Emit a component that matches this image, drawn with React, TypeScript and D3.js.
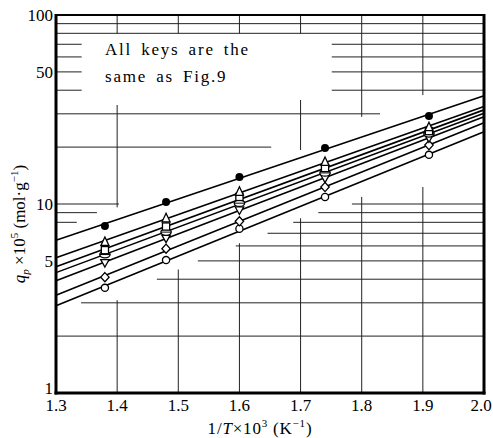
import React from "react";
import * as d3 from "d3";

// ---- data ----
const temps = [1.38, 1.48, 1.6, 1.74, 1.91]; // 1/T x 10^3
const filledCircle = [7.65, 10.25, 13.9, 19.8, 29.2];
const triangleUp = [6.3, 8.4, 11.6, 16.7, 25.5];
const squareKey = [5.7, 7.6, 10.9, 15.5, 24.3];
const thetaKey = [5.4, 7.1, 10.1, 14.6, 23.5];
const triangleDown = [4.9, 6.6, 9.3, 13.7, 22.4];
const diamondKey = [4.1, 5.8, 8.1, 12.3, 20.5];
const openCircle = [3.6, 5.05, 7.4, 10.9, 18.2];

const xTicks = [1.3, 1.4, 1.5, 1.6, 1.7, 1.8, 1.9, 2.0];
const yTickLabels = [1, 5, 10, 50, 100];

// graph-paper grid fragments (value, from x, to x) / (x, from value, to value)
const hGrid: [number, number, number][] = [
  [90, 1.3, 2.0], [80, 1.3, 2.0],
  [70, 1.3, 1.342], [70, 1.751, 2.0],
  [60, 1.3, 1.342], [60, 1.751, 2.0],
  [50, 1.3, 1.342], [50, 1.751, 2.0],
  [40, 1.3, 1.342], [40, 1.751, 2.0],
  [30, 1.3, 1.83],
  [20, 1.3, 1.652],
  [10, 1.3, 1.403], [10, 1.784, 2.0],
  [9, 1.3, 1.367], [9, 1.729, 2.0],
  [8, 1.3, 1.334], [8, 1.688, 2.0],
  [7, 1.646, 2.0],
  [6, 1.594, 2.0],
  [5, 1.532, 2.0],
  [4, 1.465, 2.0],
  [3, 1.341, 2.0],
  [2, 1.3, 2.0],
];
const vGrid: [number, number, number][] = [
  [1.4, 80, 100], [1.4, 9.6, 33.4], [1.4, 1, 3.1],
  [1.5, 80, 100], [1.5, 1, 4.5],
  [1.6, 80, 100], [1.6, 1, 6.2],
  [1.7, 80, 100], [1.7, 19.3, 35.5], [1.7, 1, 8.4],
  [1.8, 28.9, 100], [1.8, 1, 10.9],
  [1.9, 37.7, 100], [1.9, 1, 12.3],
];

type Shape = "filledCircle" | "triUp" | "square" | "theta" | "triDown" | "diamond" | "openCircle";
const seriesList: { shape: Shape; values: number[] }[] = [
  { shape: "filledCircle", values: filledCircle },
  { shape: "triUp", values: triangleUp },
  { shape: "square", values: squareKey },
  { shape: "theta", values: thetaKey },
  { shape: "triDown", values: triangleDown },
  { shape: "diamond", values: diamondKey },
  { shape: "openCircle", values: openCircle },
];

const W = 493, H = 438;
const X0 = 56, X1 = 484, Y0 = 15, Y1 = 393;

function fitLog(xs: number[], vs: number[]) {
  const ls = vs.map((v) => Math.log10(v));
  const mx = d3.mean(xs)!, my = d3.mean(ls)!;
  let num = 0, den = 0;
  xs.forEach((x, i) => { num += (x - mx) * (ls[i] - my); den += (x - mx) ** 2; });
  const b = num / den;
  const a = my - b * mx;
  return (x: number) => Math.pow(10, a + b * x);
}

function Marker({ shape, cx, cy }: { shape: Shape; cx: number; cy: number }) {
  const sw = 1.3;
  switch (shape) {
    case "filledCircle":
      return <circle cx={cx} cy={cy} r={4} fill="#000" />;
    case "openCircle":
      return <circle cx={cx} cy={cy} r={3.6} fill="#fff" stroke="#000" strokeWidth={sw} />;
    case "triUp":
      return <path d={`M${cx},${cy - 5} L${cx + 4},${cy + 3.5} L${cx - 4},${cy + 3.5}Z`} fill="#fff" stroke="#000" strokeWidth={sw} />;
    case "triDown":
      return <path d={`M${cx},${cy + 4.5} L${cx + 4.2},${cy - 3} L${cx - 4.2},${cy - 3}Z`} fill="#fff" stroke="#000" strokeWidth={sw} />;
    case "square":
      return <rect x={cx - 3.6} y={cy - 3.6} width={7.2} height={7.2} fill="#fff" stroke="#000" strokeWidth={sw} />;
    case "diamond":
      return <path d={`M${cx},${cy - 4.6} L${cx + 4.2},${cy} L${cx},${cy + 4.6} L${cx - 4.2},${cy}Z`} fill="#fff" stroke="#000" strokeWidth={sw} />;
    case "theta":
      return (
        <g>
          <ellipse cx={cx} cy={cy} rx={5.2} ry={3.2} fill="#fff" stroke="#000" strokeWidth={sw} />
          <line x1={cx - 5} x2={cx + 5} y1={cy} y2={cy} stroke="#000" strokeWidth={1} />
        </g>
      );
  }
}

export default function App() {
  const x = d3.scaleLinear().domain([1.3, 2.0]).range([X0, X1]);
  const y = d3.scaleLog().domain([1, 100]).range([Y1, Y0]);
  const fontStyle = { fontFamily: '"Liberation Serif", "Times New Roman", serif' };

  const lineGen = d3.line<[number, number]>().x((d) => x(d[0])).y((d) => y(d[1]));

  return (
    <svg width={W} height={H} style={{ position: "absolute", left: 0, top: 0, background: "#fff" }}>
      <rect x={0} y={0} width={W} height={H} fill="#fff" />
      {/* grid fragments */}
      <g stroke="#222" strokeWidth={1}>
        {hGrid.map(([v, a, b], i) => (
          <line key={"h" + i} x1={x(a)} x2={x(b)} y1={y(v)} y2={y(v)} />
        ))}
        {vGrid.map(([xv, a, b], i) => (
          <line key={"v" + i} x1={x(xv)} x2={x(xv)} y1={y(a)} y2={y(b)} />
        ))}
      </g>
      {/* fitted lines */}
      <g stroke="#000" strokeWidth={1.6} fill="none">
        {seriesList.map((s, i) => {
          const f = fitLog(temps, s.values);
          const pts: [number, number][] = [1.3, 2.0].map((t) => [t, f(t)]);
          return <path key={i} d={lineGen(pts)!} />;
        })}
      </g>
      {/* markers, bottom series first */}
      <g>
        {seriesList.slice().reverse().map((s, i) =>
          s.values.map((v, j) => (
            <Marker key={i + "-" + j} shape={s.shape} cx={x(temps[j])} cy={y(v)} />
          ))
        )}
      </g>
      {/* frame */}
      <g stroke="#000" fill="none">
        <line x1={X0} x2={X1} y1={Y0} y2={Y0} strokeWidth={2.2} />
        <line x1={X0} x2={X0} y1={Y0 - 1} y2={Y1 + 1.5} strokeWidth={3} />
        <line x1={X1} x2={X1} y1={Y0 - 1} y2={Y1 + 1.5} strokeWidth={3} />
        <line x1={X0 - 1.5} x2={X1 + 1.5} y1={Y1} y2={Y1} strokeWidth={3} />
      </g>
      {/* note */}
      <g style={{ ...fontStyle, letterSpacing: "1.8px", wordSpacing: "3px" }} fontSize={17} fill="#000">
        <text x={105} y={55}>All keys are the</text>
        <text x={105} y={82}>same as Fig.9</text>
      </g>
      {/* y tick labels */}
      <g style={fontStyle} fontSize={17} fill="#000" textAnchor="end">
        {yTickLabels.map((v) => (
          <text key={v} x={X0 - 3} y={y(v) - (v === 1 ? 5 : 0)} dy="0.35em">{v}</text>
        ))}
      </g>
      {/* x tick labels */}
      <g style={fontStyle} fontSize={17} fill="#000" textAnchor="middle">
        {xTicks.map((t) => (
          <text key={t} x={x(t) - (t === 2.0 ? 3 : 0)} y={411}>{t.toFixed(1)}</text>
        ))}
      </g>
      {/* x title */}
      <text x={260} y={434} style={{ ...fontStyle, letterSpacing: "0.8px" }} fontSize={17} textAnchor="middle" fill="#000">
        1/<tspan fontStyle="italic">T</tspan>×10<tspan fontSize={11} dy={-7}>3</tspan>
        <tspan dy={7}> (K</tspan><tspan fontSize={11} dy={-7}>−1</tspan><tspan dy={7}>)</tspan>
      </text>
      {/* y title */}
      <text transform={`translate(25,224) rotate(-90)`} style={fontStyle} fontSize={17} textAnchor="middle" fill="#000">
        <tspan fontStyle="italic">q</tspan><tspan fontStyle="italic" fontSize={11} dy={4}>p</tspan>
        <tspan dy={-4}> ×10</tspan><tspan fontSize={11} dy={-7}>5</tspan>
        <tspan dy={7}> (mol·g</tspan><tspan fontSize={11} dy={-7}>−1</tspan><tspan dy={7}>)</tspan>
      </text>
    </svg>
  );
}
